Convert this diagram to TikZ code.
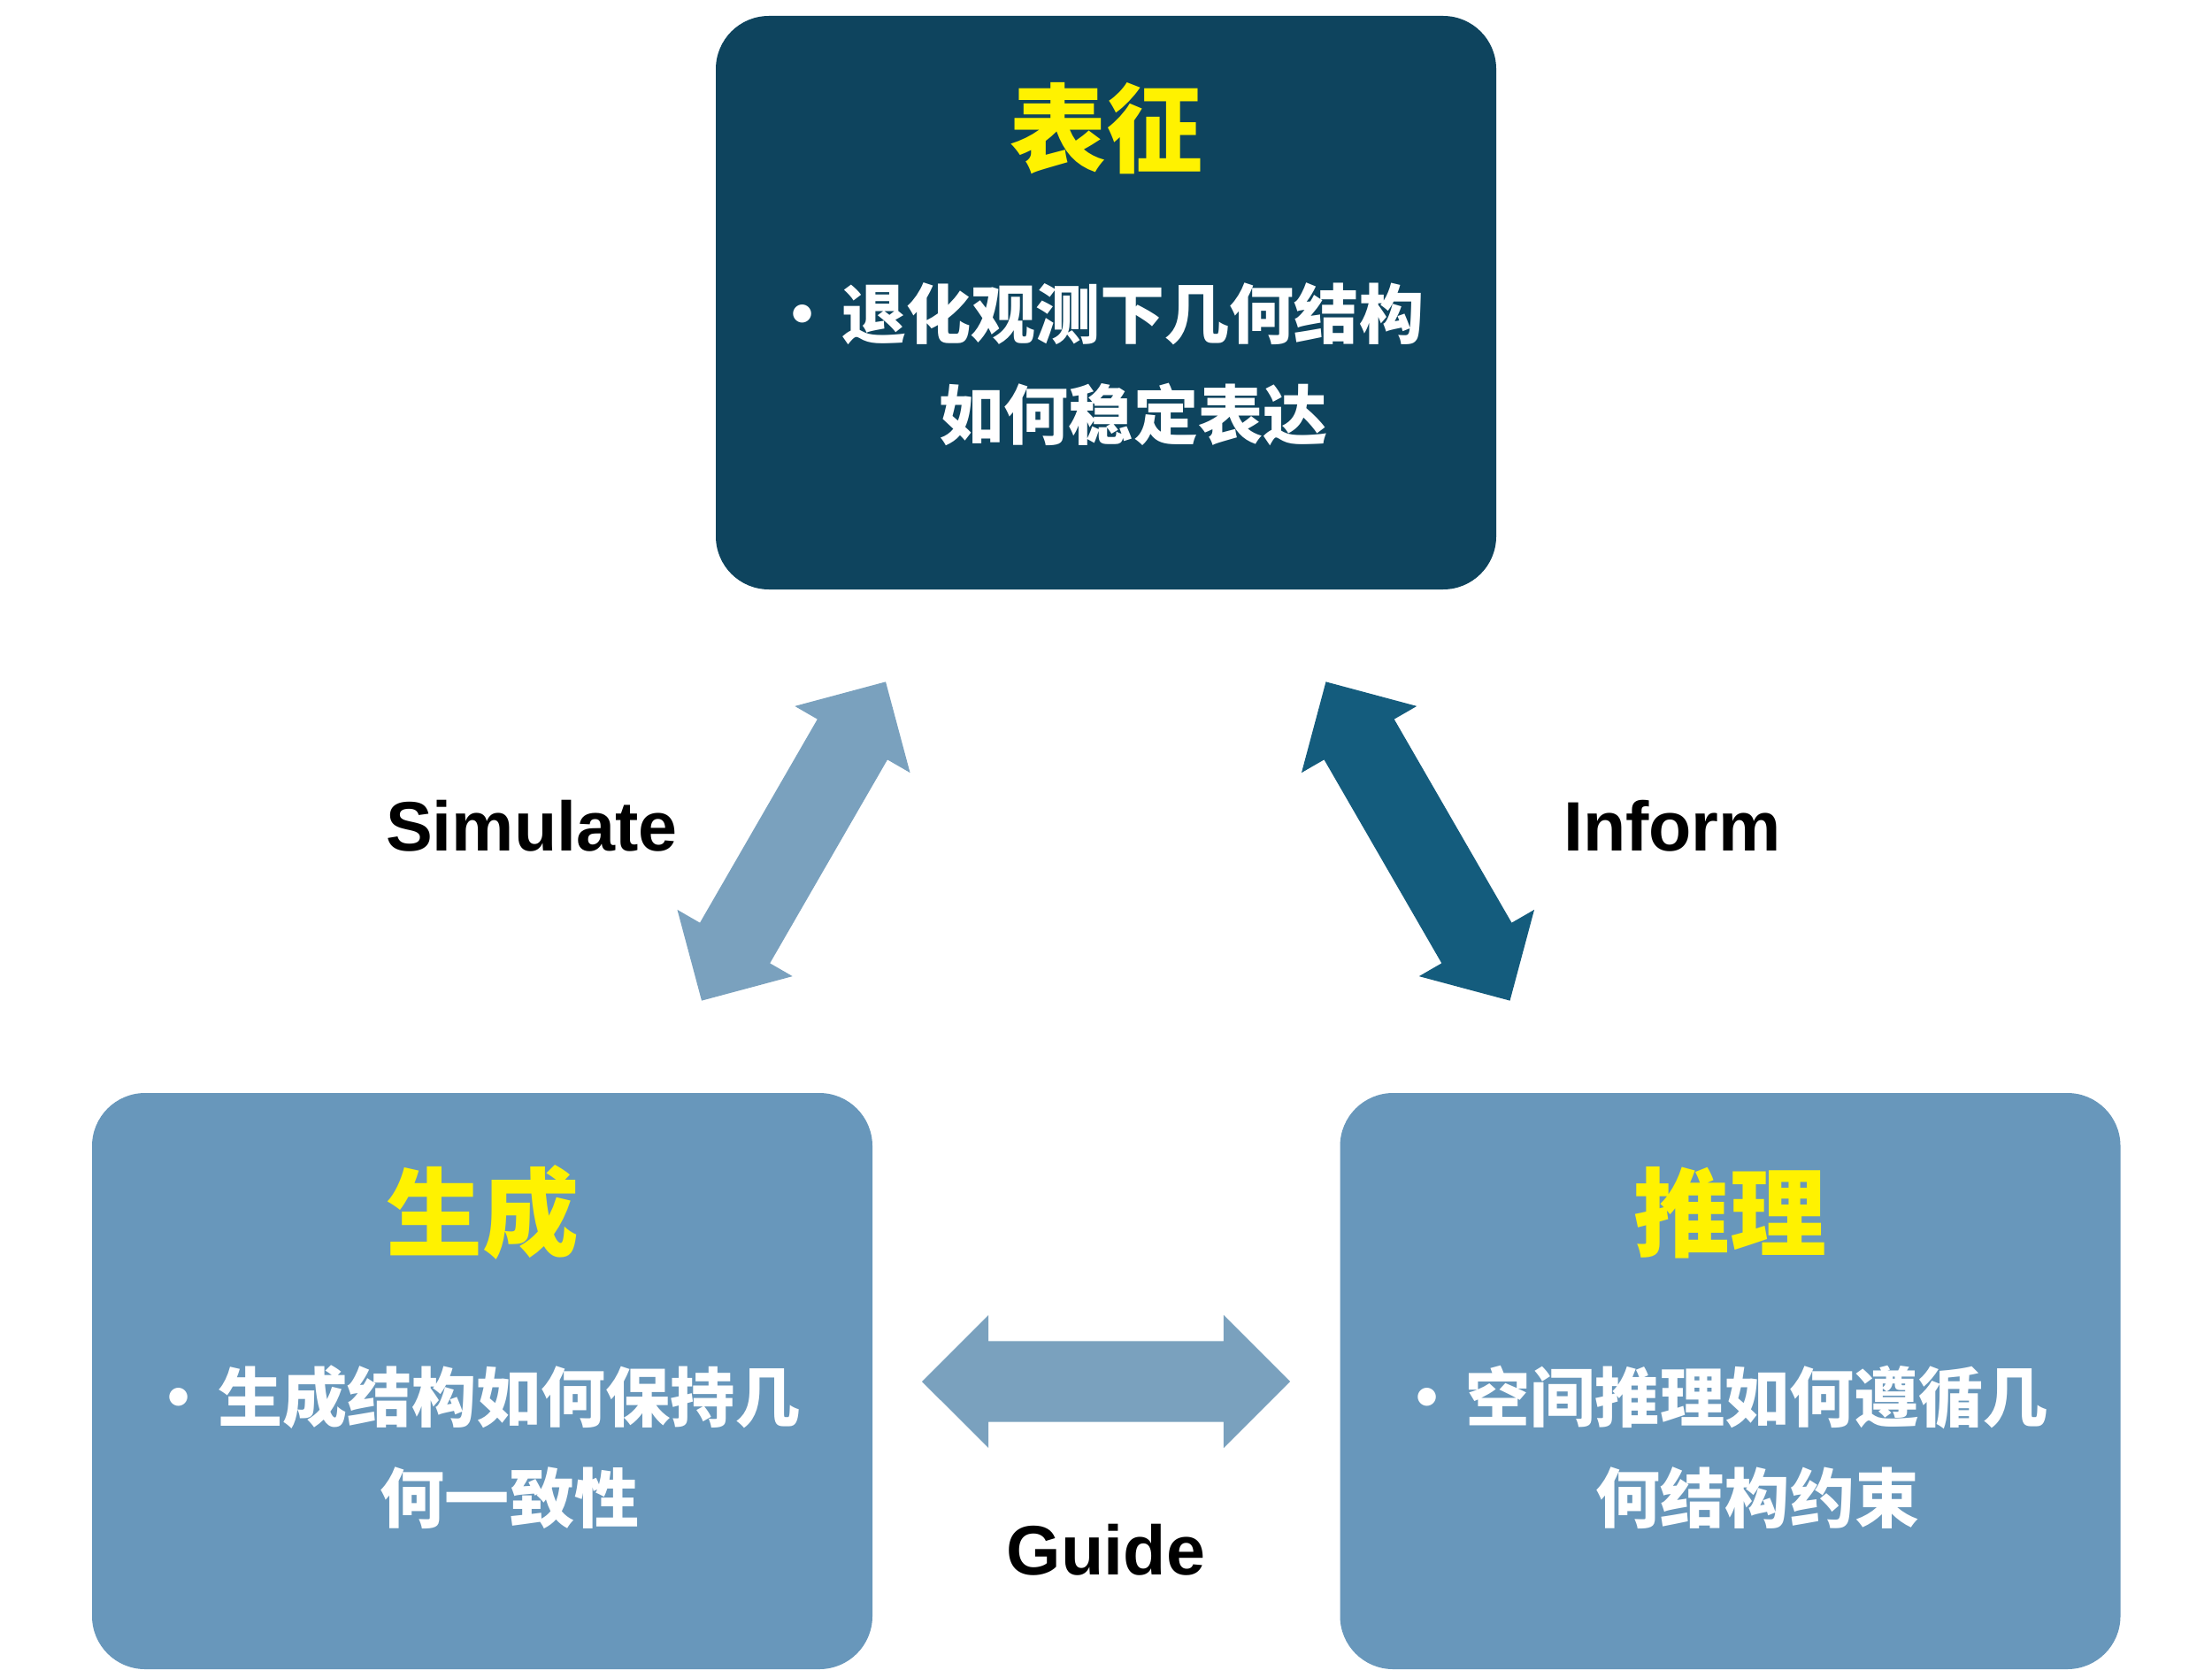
\documentclass[tikz,border=0pt]{standalone}
\usepackage{fontspec}
\setmainfont{Liberation Sans}
\newfontfamily\cjk{Noto Sans CJK SC}
\usepackage{tikz}
\usetikzlibrary{shapes.arrows}
\definecolor{darkteal}{HTML}{0E445E}
\definecolor{midblue}{HTML}{6897BB}
\definecolor{lightblue}{HTML}{7AA1BE}
\definecolor{deepblue}{HTML}{145C7D}

\begin{document}
\begin{tikzpicture}[box/.style = {rounded corners=0.6cm, minimum width=8.82cm, minimum height=6.51cm, inner sep=0pt},
    head/.style = {text=yellow, font=\cjk\bfseries\fontsize{31}{31}\selectfont},
    body/.style = {text=white, align=center, font=\cjk\bfseries\fontsize{20.8}{32.4}\selectfont},
    arr/.style = {double arrow, minimum height=4.16cm, inner xsep=0pt, inner ysep=0.45cm, double arrow head extend=0.295cm},
    lab/.style = {font=\bfseries\fontsize{22.5}{22.5}\selectfont}]
    \useasboundingbox (0,0) rectangle (25,18.95);
    % the three boxes
    \node[box, fill=darkteal, minimum height=6.48cm] (rep) at (12.5,15.53) {};
    \node[head] (repT) at ([yshift=-1.28cm]rep.north) {表征};
    \node[body] (repB) at ([yshift=-3.94cm]rep.north) {\hspace*{-0.2cm}•\hspace{0.1em}退化观测下几何结构\\\hspace*{0.62cm}如何稳定表达};
    \node[box, fill=midblue] (gen) at (5.45,3.345) {};
    \node[head] (genT) at ([yshift=-1.36cm]gen.north) {生成};
    \node[body] (genB) at ([yshift=-4.01cm]gen.north) {\hspace*{-0.2cm}•\hspace{0.1em}生成结构如何保持几\\\hspace*{0.62cm}何一致性};
    \node[box, fill=midblue] (rea) at (19.555,3.345) {};
    \node[head] (reaT) at ([yshift=-1.36cm]rea.north) {推理};
    \node[body] (reaB) at ([yshift=-4.01cm]rea.north) {\hspace*{-0.2cm}•\hspace{0.1em}空间推理如何遵循几\\\hspace*{0.62cm}何结构约束};
    % arrows and their labels
    \node[arr, fill=lightblue, rotate=60] (sim) at (8.97,9.445) {};
    \node[arr, fill=deepblue, rotate=-60] (inf) at (16.025,9.445) {};
    \node[arr, fill=lightblue] (gui) at (12.5,3.34) {};
    \node[lab] (simL) at (6.01,9.62) {Simulate};
    \node[lab] (infL) at (18.90,9.62) {Inform};
    \node[lab] (guiL) at (12.50,1.44) {Guide};
\end{tikzpicture}
\end{document}
